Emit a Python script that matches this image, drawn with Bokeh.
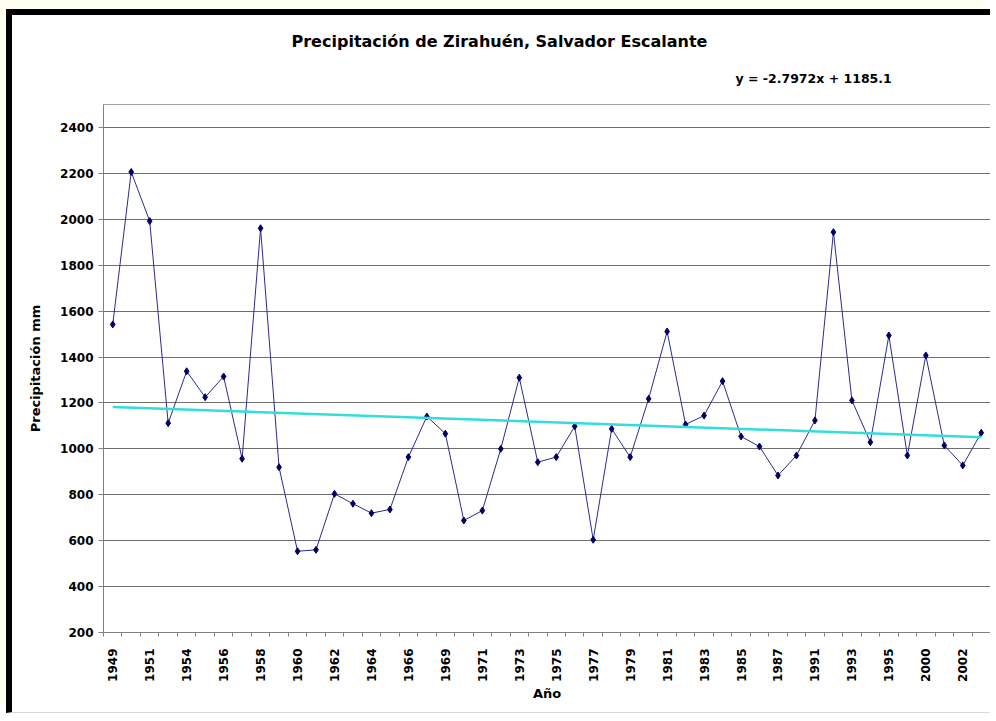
import numpy as np
from bokeh.plotting import figure
from bokeh.models import Title, FixedTicker, Range1d, ColumnDataSource
from bokeh.embed import file_html
from bokeh.resources import INLINE

# ---- data ----
index = list(range(1, 49))
precip = [1542, 2206, 1992, 1112, 1338, 1225, 1315, 957, 1961, 920,
          554, 560, 804, 761, 720, 736, 964, 1141, 1066, 688,
          731, 1000, 1310, 942, 964, 1098, 604, 1087, 964, 1218,
          1511, 1106, 1145, 1295, 1054, 1010, 884, 971, 1124, 1944,
          1211, 1029, 1494, 971, 1407, 1015, 928, 1070]
label_index = list(range(1, 49, 2))
year_labels = ["1949", "1951", "1954", "1956", "1958", "1960", "1962", "1964",
               "1966", "1969", "1971", "1973", "1975", "1977", "1979", "1981",
               "1983", "1985", "1987", "1991", "1993", "1995", "2000", "2002"]
y_ticks = [200, 400, 600, 800, 1000, 1200, 1400, 1600, 1800, 2000, 2200, 2400]
trend_slope = -2.7972
trend_intercept = 1185.1

FONT = "DejaVu Sans"

p = figure(width=984, height=704, output_backend="svg", toolbar_location=None,
           x_range=Range1d(0.5, 48.5), y_range=Range1d(200, 2500),
           min_border_left=91, min_border_right=6, min_border_top=89, min_border_bottom=87)
p.title.visible = False
p.styles = {"border-top": "6px solid #000000", "border-left": "6px solid #000000",
            "border-bottom": "1px solid #d8d8d8",
            "margin-left": "6px", "margin-top": "9px",
            "box-shadow": "-6px -9px 0 0 #fffff0"}
p.background_fill_color = "white"
p.border_fill_color = "white"
p.outline_line_color = "#a0a0a0"
p.outline_line_width = 1

# axes
p.xaxis.ticker = FixedTicker(ticks=label_index, minor_ticks=[i + 0.5 for i in range(0, 49)])
p.xaxis.major_label_overrides = {i: y for i, y in zip(label_index, year_labels)}
p.xaxis.major_label_orientation = np.pi / 2
p.xaxis.major_tick_line_color = None
p.xaxis.minor_tick_line_color = "#808080"
p.xaxis.minor_tick_out = 4
p.xaxis.minor_tick_in = 0
p.xaxis.major_label_standoff = 10
p.xaxis.axis_line_color = "#808080"
p.xaxis.axis_label = "Año"
p.xaxis.axis_label_standoff = 1

p.yaxis.ticker = FixedTicker(ticks=y_ticks)
p.yaxis.minor_tick_line_color = None
p.yaxis.major_tick_out = 5
p.yaxis.major_tick_in = 0
p.yaxis.major_tick_line_color = "#808080"
p.yaxis.axis_line_color = "#808080"
p.yaxis.major_label_standoff = 5
p.yaxis.axis_label = "Precipitación mm"
p.yaxis.axis_label_standoff = 14

for ax in (p.xaxis, p.yaxis):
    ax.major_label_text_font = FONT
    ax.major_label_text_font_size = "12px"
    ax.major_label_text_font_style = "bold"
    ax.major_label_text_color = "#000000"
    ax.axis_label_text_font = FONT
    ax.axis_label_text_font_size = "13px"
    ax.axis_label_text_font_style = "bold"
    ax.axis_label_text_color = "#000000"

p.xgrid.grid_line_color = None
p.ygrid.grid_line_color = "#6e6e6e"
p.ygrid.grid_line_width = 1.2

src = ColumnDataSource(dict(x=index, y=precip))
p.line("x", "y", source=src, line_color="#2b2b8c", line_width=1)
p.scatter("x", "y", source=src, marker="diamond", size=7,
          fill_color="#000066", line_color="#000066")

tx = [index[0], index[-1]]
ty = [trend_slope * v + trend_intercept for v in tx]
p.line(tx, ty, line_color="#33dddd", line_width=2.5)

# trend equation (closest to the frame) and main title above it
eq = Title(text="y = -2.7972x + 1185.1", align="left", offset=632, standoff=37,
           text_font=FONT, text_font_size="12.5px", text_font_style="bold",
           text_color="#000000")
main_title = Title(text="Precipitación de Zirahuén,  Salvador Escalante",
                   align="left", offset=188, standoff=0,
                   text_font=FONT, text_font_size="16px", text_font_style="bold",
                   text_color="#000000")
p.add_layout(eq, "above")
p.add_layout(main_title, "above")

open("out.html", "w").write(file_html(p, INLINE))
